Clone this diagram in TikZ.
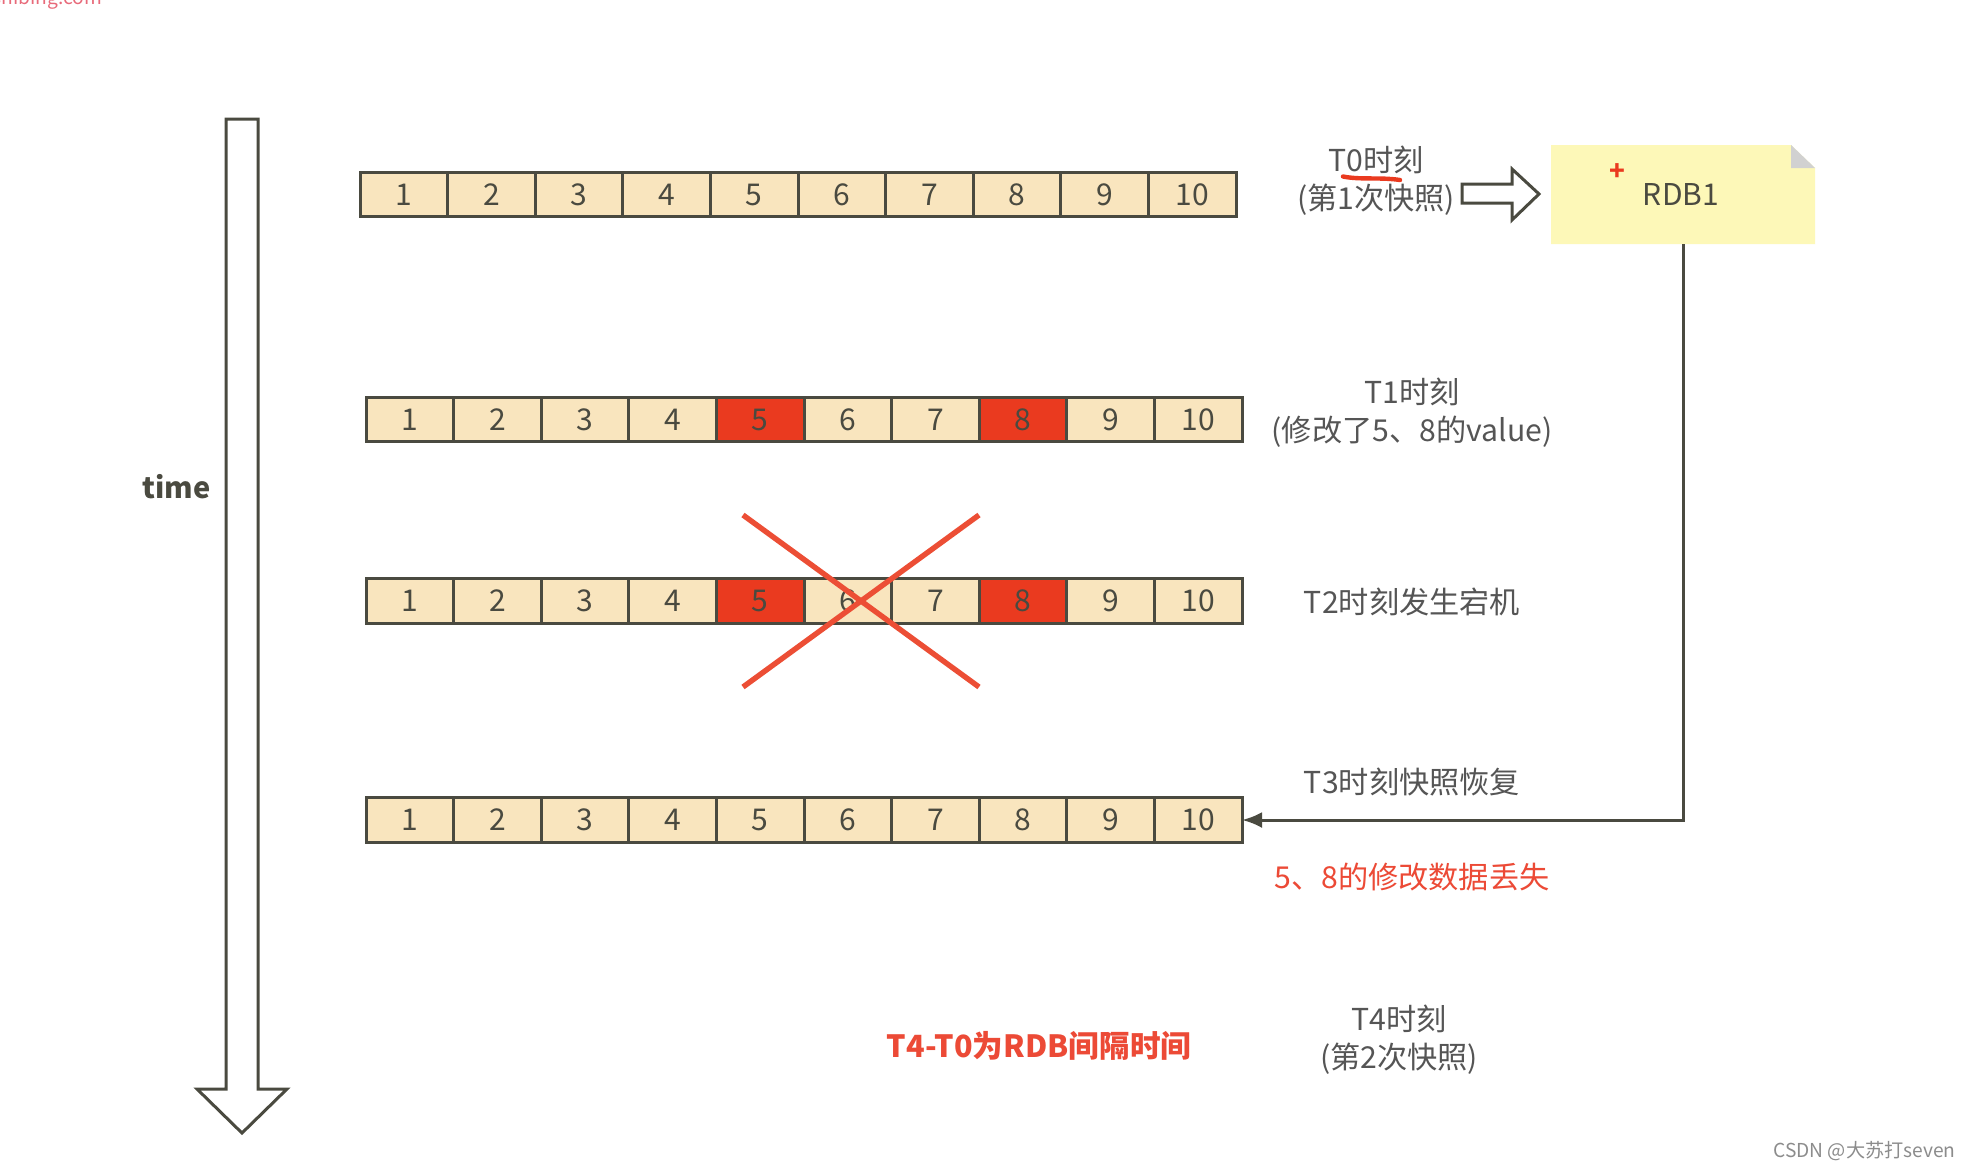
\documentclass[tikz,border=0pt]{standalone}
\usepackage{fontspec}
\setmainfont{Noto Sans CJK SC}
\usetikzlibrary{arrows.meta}
\definecolor{cellfill}{HTML}{F9E5BE}
\definecolor{hotfill}{HTML}{EA3A1F}
\definecolor{ink}{HTML}{4A4A40}
\definecolor{lab}{HTML}{555555}
\definecolor{redtxt}{HTML}{EC4A36}
\definecolor{notefill}{HTML}{FDF8B8}
\definecolor{wmred}{HTML}{E86A7A}
\tikzset{
 x=0.5pt,y=-0.5pt,
 cellbox/.style={draw=ink,line width=1.5pt,fill=cellfill,minimum width=43.8pt,minimum height=22.4pt,inner sep=0pt,outer sep=0pt,text=ink,font=\fontsize{15}{16}\selectfont},
 hotbox/.style={cellbox,fill=hotfill},
 lbl/.style={text=lab,align=center,inner sep=0pt,font=\fontsize{15.1}{18.8}\selectfont},
 redlbl/.style={text=redtxt,align=center,inner sep=0pt,font=\fontsize{15.1}{18}\selectfont},
 outl/.style={draw=ink,line width=1.5pt,fill=white,line join=miter},
 crossline/.style={draw=hotfill!90!white,line width=2.7pt},
}
\begin{document}
\begin{tikzpicture}
\useasboundingbox (0,0) rectangle (1970,1168);
\fill[white] (0,0) rectangle (1970,1168);
% time arrow
\draw[outl] (226,119) -- (258,119) -- (258,1089) -- (287,1089) -- (242,1133) -- (197,1089) -- (226,1089) -- cycle;
\node[text=ink,inner sep=0pt,font=\fontsize{14.5}{18}\selectfont\bfseries] (time) at (176.5,487) {time};
% rows
\foreach \r/\xl/\yc in {a/360/194.5,b/366/419.5,c/366/601,d/366/820}{
 \foreach \i in {1,...,10}{
  \pgfmathsetmacro{\cx}{\xl+(\i-0.5)*87.6}
  \node[cellbox] (\r\i) at (\cx,\yc) {\i};
 }
}
\foreach \r in {b,c}{
 \node[hotbox] (\r5h) at (\r5) {5};
 \node[hotbox] (\r8h) at (\r8) {8};
}
% cross
\coordinate (xa) at (743,515); \coordinate (xb) at (979,687);
\coordinate (xc) at (979,515); \coordinate (xd) at (743,687);
\draw[crossline] (xa) -- (xb);
\draw[crossline] (xc) -- (xd);
% labels
\node[lbl] (t0) at (1376,180.5) {T0时刻\\(第1次快照)};
\draw[hotfill,line width=2.2pt,line cap=round] (1343,176.5) .. controls (1360,180) and (1380,177) .. (1400,180);
\node[lbl] (t1) at (1412,412.5) {T1时刻\\(修改了5、8的value)};
\node[lbl] (t2) at (1412,602) {T2时刻发生宕机};
\node[lbl] (t3) at (1412,782) {T3时刻快照恢复};
\node[redlbl] (lost) at (1412,877) {5、8的修改数据丢失};
\node[lbl] (t4) at (1399,1039.5) {T4时刻\\(第2次快照)};
\node[text=redtxt,inner sep=0pt,font=\fontsize{15.3}{18}\selectfont\bfseries] (gap) at (1039,1046) {T4-T0为RDB间隔时间};
% block arrow
\draw[outl] (1462,184) -- (1512,184) -- (1512,169) -- (1539,194) -- (1512,220) -- (1512,203) -- (1462,203) -- cycle;
% note
\fill[notefill] (1551,145) -- (1791,145) -- (1815,168) -- (1815,244) -- (1551,244) -- cycle;
\fill[black!18] (1791,145) -- (1815,168) -- (1791,168) -- cycle;
\node[inner sep=0pt,minimum width=132pt,minimum height=49.5pt] (rdb) at (1683,194.5) {};
\node[text=ink,inner sep=0pt,font=\fontsize{15}{16}\selectfont] (rdbt) at (1681,194) {RDB1};
\node[text=hotfill,inner sep=0pt,font=\fontsize{13}{14}\selectfont\bfseries] (plus) at (1617,172.5) {+};
% connector
\draw[ink,line width=1.5pt,-{Latex[length=10pt,width=8pt]}] (rdb.south) |- (d10.east);
% watermarks
\node[anchor=base west,text=wmred,inner sep=0pt,font=\fontsize{9.6}{12}\selectfont] (wm) at (-8,4) {shibing.com};
\node[anchor=east,text=black!45,inner sep=0pt,font=\fontsize{9.6}{12}\selectfont] (csdn) at (1956,1151) {CSDN @大苏打seven};
\end{tikzpicture}
\end{document}
